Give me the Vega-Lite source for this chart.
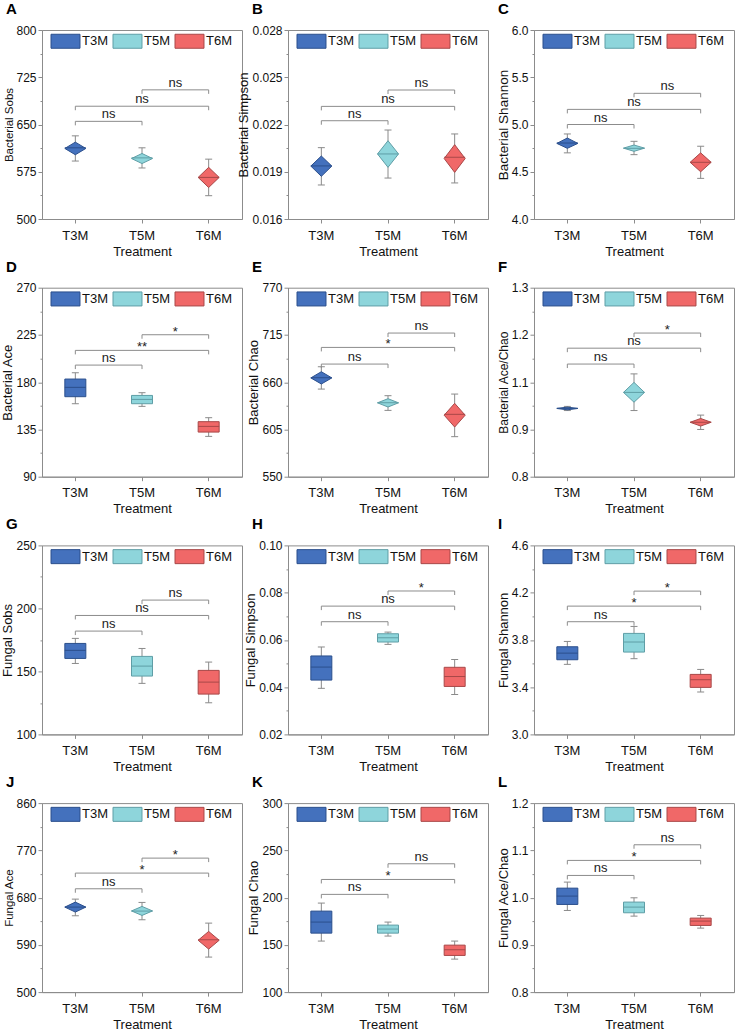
{
"$schema": "https://vega.github.io/schema/vega-lite/v6.json",
"padding": {"left": 1, "top": 1, "right": 5, "bottom": 0},
"columns": 3,
"spacing": {"row": 68.7, "column": 46},
"bounds": "flush",
"resolve": {"legend": {"fill": "independent", "stroke": "independent"}},
"datasets": {
"stats": [
{"p":"A","g":"T3M","lo":592,"q1":602,"med":613,"q3":622,"hi":632},
{"p":"A","g":"T5M","lo":581,"q1":588,"med":597,"q3":604,"hi":613},
{"p":"A","g":"T6M","lo":537,"q1":550,"med":566,"q3":582,"hi":595},
{"p":"B","g":"T3M","lo":0.01816,"q1":0.01871,"med":0.01937,"q3":0.0200,"hi":0.02053},
{"p":"B","g":"T5M","lo":0.0186,"q1":0.01928,"med":0.02013,"q3":0.02097,"hi":0.02165},
{"p":"B","g":"T6M","lo":0.01829,"q1":0.01896,"med":0.01992,"q3":0.02072,"hi":0.0214},
{"p":"C","g":"T3M","lo":4.70,"q1":4.748,"med":4.804,"q3":4.857,"hi":4.90},
{"p":"C","g":"T5M","lo":4.681,"q1":4.716,"med":4.748,"q3":4.783,"hi":4.822},
{"p":"C","g":"T6M","lo":4.43,"q1":4.50,"med":4.60,"q3":4.70,"hi":4.77},
{"p":"D","g":"T3M","lo":159.5,"q1":166.2,"med":175.1,"q3":183.0,"hi":189.0},
{"p":"D","g":"T5M","lo":157.0,"q1":159.5,"med":163.6,"q3":167.4,"hi":170.0},
{"p":"D","g":"T6M","lo":128.4,"q1":132.5,"med":137.9,"q3":142.4,"hi":146.2},
{"p":"E","g":"T3M","lo":652,"q1":657.9,"med":665.2,"q3":672.2,"hi":678},
{"p":"E","g":"T5M","lo":627.2,"q1":631.1,"med":636.1,"q3":640.8,"hi":644.3},
{"p":"E","g":"T6M","lo":596.6,"q1":607.8,"med":622.6,"q3":635.4,"hi":646.2},
{"p":"F","g":"T3M","lo":0.975,"q1":0.977,"med":0.981,"q3":0.984,"hi":0.986},
{"p":"F","g":"T5M","lo":0.975,"q1":0.997,"med":1.023,"q3":1.0495,"hi":1.072},
{"p":"F","g":"T6M","lo":0.925,"q1":0.934,"med":0.944,"q3":0.954,"hi":0.963},
{"p":"G","g":"T3M","lo":156.3,"q1":160.3,"med":166.7,"q3":172.2,"hi":176.2},
{"p":"G","g":"T5M","lo":140.5,"q1":146.3,"med":154.2,"q3":161.9,"hi":168.2},
{"p":"G","g":"T6M","lo":125.1,"q1":132.0,"med":141.5,"q3":150.8,"hi":157.4},
{"p":"H","g":"T3M","lo":0.0395,"q1":0.0430,"med":0.0485,"q3":0.0532,"hi":0.0570},
{"p":"H","g":"T5M","lo":0.0581,"q1":0.0591,"med":0.0609,"q3":0.0626,"hi":0.0633},
{"p":"H","g":"T6M","lo":0.0369,"q1":0.0403,"med":0.0445,"q3":0.0484,"hi":0.0517},
{"p":"I","g":"T3M","lo":3.593,"q1":3.632,"med":3.688,"q3":3.742,"hi":3.787},
{"p":"I","g":"T5M","lo":3.641,"q1":3.697,"med":3.782,"q3":3.855,"hi":3.914},
{"p":"I","g":"T6M","lo":3.359,"q1":3.398,"med":3.463,"q3":3.508,"hi":3.550},
{"p":"J","g":"T3M","lo":645.4,"q1":652.4,"med":661.9,"q3":671.4,"hi":677.1},
{"p":"J","g":"T5M","lo":637.8,"q1":646.0,"med":654.3,"q3":663.2,"hi":670.8},
{"p":"J","g":"T6M","lo":566.7,"q1":581.9,"med":599.7,"q3":615.6,"hi":631.4},
{"p":"K","g":"T3M","lo":154.0,"q1":162.4,"med":174.1,"q3":185.7,"hi":194.2},
{"p":"K","g":"T5M","lo":159.3,"q1":162.4,"med":166.7,"q3":170.9,"hi":174.1},
{"p":"K","g":"T6M","lo":134.9,"q1":138.8,"med":144.8,"q3":149.7,"hi":154.0},
{"p":"L","g":"T3M","lo":0.9728,"q1":0.9855,"med":1.0032,"q3":1.020,"hi":1.0328},
{"p":"L","g":"T5M","lo":0.9608,"q1":0.9679,"med":0.9799,"q3":0.9905,"hi":0.9996},
{"p":"L","g":"T6M","lo":0.9354,"q1":0.9411,"med":0.9503,"q3":0.9566,"hi":0.9622}
],
"diam": [
{"p":"A","g":"T3M","v":"lo","ya":612,"yb":612},{"p":"A","g":"T3M","v":"mid","ya":602,"yb":622},{"p":"A","g":"T3M","v":"hi","ya":612,"yb":612},
{"p":"A","g":"T5M","v":"lo","ya":596,"yb":596},{"p":"A","g":"T5M","v":"mid","ya":588,"yb":604},{"p":"A","g":"T5M","v":"hi","ya":596,"yb":596},
{"p":"A","g":"T6M","v":"lo","ya":566,"yb":566},{"p":"A","g":"T6M","v":"mid","ya":550,"yb":582},{"p":"A","g":"T6M","v":"hi","ya":566,"yb":566},
{"p":"B","g":"T3M","v":"lo","ya":0.01936,"yb":0.01936},{"p":"B","g":"T3M","v":"mid","ya":0.01871,"yb":0.0200},{"p":"B","g":"T3M","v":"hi","ya":0.01936,"yb":0.01936},
{"p":"B","g":"T5M","v":"lo","ya":0.02013,"yb":0.02013},{"p":"B","g":"T5M","v":"mid","ya":0.01928,"yb":0.02097},{"p":"B","g":"T5M","v":"hi","ya":0.02013,"yb":0.02013},
{"p":"B","g":"T6M","v":"lo","ya":0.01984,"yb":0.01984},{"p":"B","g":"T6M","v":"mid","ya":0.01896,"yb":0.02072},{"p":"B","g":"T6M","v":"hi","ya":0.01984,"yb":0.01984},
{"p":"C","g":"T3M","v":"lo","ya":4.80,"yb":4.80},{"p":"C","g":"T3M","v":"mid","ya":4.748,"yb":4.857},{"p":"C","g":"T3M","v":"hi","ya":4.80,"yb":4.80},
{"p":"C","g":"T5M","v":"lo","ya":4.75,"yb":4.75},{"p":"C","g":"T5M","v":"mid","ya":4.716,"yb":4.783},{"p":"C","g":"T5M","v":"hi","ya":4.75,"yb":4.75},
{"p":"C","g":"T6M","v":"lo","ya":4.60,"yb":4.60},{"p":"C","g":"T6M","v":"mid","ya":4.50,"yb":4.70},{"p":"C","g":"T6M","v":"hi","ya":4.60,"yb":4.60},
{"p":"E","g":"T3M","v":"lo","ya":665,"yb":665},{"p":"E","g":"T3M","v":"mid","ya":657.9,"yb":672.2},{"p":"E","g":"T3M","v":"hi","ya":665,"yb":665},
{"p":"E","g":"T5M","v":"lo","ya":636,"yb":636},{"p":"E","g":"T5M","v":"mid","ya":631.1,"yb":640.8},{"p":"E","g":"T5M","v":"hi","ya":636,"yb":636},
{"p":"E","g":"T6M","v":"lo","ya":621.6,"yb":621.6},{"p":"E","g":"T6M","v":"mid","ya":607.8,"yb":635.4},{"p":"E","g":"T6M","v":"hi","ya":621.6,"yb":621.6},
{"p":"F","g":"T3M","v":"lo","ya":0.9805,"yb":0.9805},{"p":"F","g":"T3M","v":"mid","ya":0.977,"yb":0.984},{"p":"F","g":"T3M","v":"hi","ya":0.9805,"yb":0.9805},
{"p":"F","g":"T5M","v":"lo","ya":1.023,"yb":1.023},{"p":"F","g":"T5M","v":"mid","ya":0.997,"yb":1.0495},{"p":"F","g":"T5M","v":"hi","ya":1.023,"yb":1.023},
{"p":"F","g":"T6M","v":"lo","ya":0.944,"yb":0.944},{"p":"F","g":"T6M","v":"mid","ya":0.934,"yb":0.954},{"p":"F","g":"T6M","v":"hi","ya":0.944,"yb":0.944},
{"p":"J","g":"T3M","v":"lo","ya":661.9,"yb":661.9},{"p":"J","g":"T3M","v":"mid","ya":652.4,"yb":671.4},{"p":"J","g":"T3M","v":"hi","ya":661.9,"yb":661.9},
{"p":"J","g":"T5M","v":"lo","ya":654.6,"yb":654.6},{"p":"J","g":"T5M","v":"mid","ya":646.0,"yb":663.2},{"p":"J","g":"T5M","v":"hi","ya":654.6,"yb":654.6},
{"p":"J","g":"T6M","v":"lo","ya":598.75,"yb":598.75},{"p":"J","g":"T6M","v":"mid","ya":581.9,"yb":615.6},{"p":"J","g":"T6M","v":"hi","ya":598.75,"yb":598.75}
],
"brk": [
{"p":"A","a":1,"b":2,"m":1.5,"y":655,"lab":"ns"},{"p":"A","a":1,"b":3,"m":2,"y":679,"lab":"ns"},{"p":"A","a":2,"b":3,"m":2.5,"y":705,"lab":"ns"},
{"p":"B","a":1,"b":2,"m":1.5,"y":0.02224,"lab":"ns"},{"p":"B","a":1,"b":3,"m":2,"y":0.02315,"lab":"ns"},{"p":"B","a":2,"b":3,"m":2.5,"y":0.02419,"lab":"ns"},
{"p":"C","a":1,"b":2,"m":1.5,"y":5.0,"lab":"ns"},{"p":"C","a":1,"b":3,"m":2,"y":5.16,"lab":"ns"},{"p":"C","a":2,"b":3,"m":2.5,"y":5.33,"lab":"ns"},
{"p":"D","a":1,"b":2,"m":1.5,"y":196.3,"lab":"ns"},{"p":"D","a":1,"b":3,"m":2,"y":210.3,"lab":"**"},{"p":"D","a":2,"b":3,"m":2.5,"y":225.2,"lab":"*"},
{"p":"E","a":1,"b":2,"m":1.5,"y":681.1,"lab":"ns"},{"p":"E","a":1,"b":3,"m":2,"y":700.5,"lab":"*"},{"p":"E","a":2,"b":3,"m":2.5,"y":717.2,"lab":"ns"},
{"p":"F","a":1,"b":2,"m":1.5,"y":1.098,"lab":"ns"},{"p":"F","a":1,"b":3,"m":2,"y":1.140,"lab":"ns"},{"p":"F","a":2,"b":3,"m":2.5,"y":1.180,"lab":"*"},
{"p":"G","a":1,"b":2,"m":1.5,"y":182.0,"lab":"ns"},{"p":"G","a":1,"b":3,"m":2,"y":194.4,"lab":"ns"},{"p":"G","a":2,"b":3,"m":2.5,"y":206.6,"lab":"ns"},
{"p":"H","a":1,"b":2,"m":1.5,"y":0.0677,"lab":"ns"},{"p":"H","a":1,"b":3,"m":2,"y":0.0743,"lab":"ns"},{"p":"H","a":2,"b":3,"m":2.5,"y":0.0807,"lab":"*"},
{"p":"I","a":1,"b":2,"m":1.5,"y":3.954,"lab":"ns"},{"p":"I","a":1,"b":3,"m":2,"y":4.086,"lab":"*"},{"p":"I","a":2,"b":3,"m":2.5,"y":4.213,"lab":"*"},
{"p":"J","a":1,"b":2,"m":1.5,"y":696.8,"lab":"ns"},{"p":"J","a":1,"b":3,"m":2,"y":726.7,"lab":"*"},{"p":"J","a":2,"b":3,"m":2.5,"y":755.2,"lab":"*"},
{"p":"K","a":1,"b":2,"m":1.5,"y":203.4,"lab":"ns"},{"p":"K","a":1,"b":3,"m":2,"y":219.2,"lab":"*"},{"p":"K","a":2,"b":3,"m":2.5,"y":235.8,"lab":"ns"},
{"p":"L","a":1,"b":2,"m":1.5,"y":1.0469,"lab":"ns"},{"p":"L","a":1,"b":3,"m":2,"y":1.0787,"lab":"*"},{"p":"L","a":2,"b":3,"m":2.5,"y":1.1118,"lab":"ns"}
]
},
"concat": [
{"title": {"text": "A"}, "width": 200, "height": 189,
 "resolve": {"scale": {"x": "independent"}, "axis": {"x": "independent"}},
 "encoding": {"y": {"type": "quantitative", "title": "Bacterial Sobs", "scale": {"domain": [500, 800], "zero": false, "nice": false}, "axis": {"titleFontSize": 11.5, "values": [500, 537.5, 575, 612.5, 650, 687.5, 725, 762.5, 800], "format": "d", "labelExpr": "indexof([500,575,650,725,800], datum.value) < 0 ? '' : datum.label", "tickSize": {"condition": {"test": "indexof([500,575,650,725,800], datum.value) < 0", "value": 2}, "value": 4}}}},
 "layer": [
  {"encoding": {"x": {"field": "g", "type": "nominal", "title": "Treatment", "scale": {"type": "band", "domain": ["T3M", "T5M", "T6M"], "paddingInner": 0.685, "paddingOuter": 0.3425}, "axis": {"labelAngle": 0}}},
   "layer": [
    {"data": {"name": "stats"}, "transform": [{"filter": "datum.p == 'A'"}], "mark": {"type": "rule", "color": "#8a8a8a"}, "encoding": {"y": {"field": "lo"}, "y2": {"field": "hi"}}},
    {"data": {"name": "stats"}, "transform": [{"filter": "datum.p == 'A'"}, {"fold": ["lo", "hi"], "as": ["k", "w"]}], "mark": {"type": "tick", "orient": "horizontal", "size": 7, "thickness": 1, "color": "#8a8a8a", "opacity": 1}, "encoding": {"y": {"field": "w"}}},
    {"data": {"name": "diam"}, "transform": [{"filter": "datum.p == 'A'"}], "mark": {"type": "area", "orient": "vertical", "strokeWidth": 1, "opacity": 1}, "encoding": {"xOffset": {"field": "v", "type": "nominal", "scale": {"type": "point", "domain": ["lo", "mid", "hi"], "padding": 0}}, "y": {"field": "ya"}, "y2": {"field": "yb"}, "fill": {"field": "g", "type": "nominal", "scale": {"domain": ["T3M", "T5M", "T6M"], "range": ["#4471BD", "#8ED5DB", "#F06868"]}, "legend": {"title": null}}, "stroke": {"field": "g", "type": "nominal", "scale": {"domain": ["T3M", "T5M", "T6M"], "range": ["#2B4F8C", "#5F9EA6", "#A84848"]}, "legend": {"title": null}}}},
    {"data": {"name": "stats"}, "transform": [{"filter": "datum.p == 'A'"}, {"fold": ["lo", "hi"], "as": ["k", "w"]}], "mark": {"type": "line", "strokeWidth": 1}, "encoding": {"xOffset": {"field": "k", "type": "nominal", "scale": {"type": "point", "domain": ["lo", "mid", "hi"], "padding": 0}}, "y": {"field": "med"}, "stroke": {"field": "g", "type": "nominal", "scale": {"domain": ["T3M", "T5M", "T6M"], "range": ["#2B4F8C", "#5F9EA6", "#A84848"]}, "legend": {"title": null}}}}
   ]},
  {"data": {"name": "brk"}, "transform": [{"filter": "datum.p == 'A'"}],
   "encoding": {"x": {"type": "quantitative", "scale": {"domain": [0.5, 3.5], "zero": false, "nice": false}, "axis": null}},
   "layer": [
    {"mark": {"type": "rule", "color": "#8c8c8c"}, "encoding": {"x": {"field": "a"}, "x2": {"field": "b"}, "y": {"field": "y"}}},
    {"transform": [{"fold": ["a", "b"], "as": ["k", "e"]}], "mark": {"type": "rule", "color": "#8c8c8c", "y2Offset": 4}, "encoding": {"x": {"field": "e"}, "y": {"field": "y"}, "y2": {"field": "y"}}},
    {"transform": [{"filter": "datum.lab == 'ns'"}], "mark": {"type": "text", "dy": -3, "baseline": "alphabetic", "fontSize": 13, "color": "#222"}, "encoding": {"x": {"field": "m"}, "y": {"field": "y"}, "text": {"field": "lab"}}},
    {"transform": [{"filter": "datum.lab != 'ns'"}], "mark": {"type": "text", "dy": 1, "baseline": "alphabetic", "fontSize": 13, "color": "#222"}, "encoding": {"x": {"field": "m"}, "y": {"field": "y"}, "text": {"field": "lab"}}}
   ]}
 ]},
{"title": {"text": "B"}, "width": 200, "height": 189,
 "resolve": {"scale": {"x": "independent"}, "axis": {"x": "independent"}},
 "encoding": {"y": {"type": "quantitative", "title": "Bacterial Simpson", "scale": {"domain": [0.016, 0.028], "zero": false, "nice": false}, "axis": {"values": [0.016, 0.0175, 0.019, 0.0205, 0.022, 0.0235, 0.025, 0.0265, 0.028], "format": ".3f", "labelExpr": "indexof([0.016,0.019,0.022,0.025,0.028], datum.value) < 0 ? '' : datum.label", "tickSize": {"condition": {"test": "indexof([0.016,0.019,0.022,0.025,0.028], datum.value) < 0", "value": 2}, "value": 4}}}},
 "layer": [
  {"encoding": {"x": {"field": "g", "type": "nominal", "title": "Treatment", "scale": {"type": "band", "domain": ["T3M", "T5M", "T6M"], "paddingInner": 0.685, "paddingOuter": 0.3425}, "axis": {"labelAngle": 0}}},
   "layer": [
    {"data": {"name": "stats"}, "transform": [{"filter": "datum.p == 'B'"}], "mark": {"type": "rule", "color": "#8a8a8a"}, "encoding": {"y": {"field": "lo"}, "y2": {"field": "hi"}}},
    {"data": {"name": "stats"}, "transform": [{"filter": "datum.p == 'B'"}, {"fold": ["lo", "hi"], "as": ["k", "w"]}], "mark": {"type": "tick", "orient": "horizontal", "size": 7, "thickness": 1, "color": "#8a8a8a", "opacity": 1}, "encoding": {"y": {"field": "w"}}},
    {"data": {"name": "diam"}, "transform": [{"filter": "datum.p == 'B'"}], "mark": {"type": "area", "orient": "vertical", "strokeWidth": 1, "opacity": 1}, "encoding": {"xOffset": {"field": "v", "type": "nominal", "scale": {"type": "point", "domain": ["lo", "mid", "hi"], "padding": 0}}, "y": {"field": "ya"}, "y2": {"field": "yb"}, "fill": {"field": "g", "type": "nominal", "scale": {"domain": ["T3M", "T5M", "T6M"], "range": ["#4471BD", "#8ED5DB", "#F06868"]}, "legend": {"title": null}}, "stroke": {"field": "g", "type": "nominal", "scale": {"domain": ["T3M", "T5M", "T6M"], "range": ["#2B4F8C", "#5F9EA6", "#A84848"]}, "legend": {"title": null}}}},
    {"data": {"name": "stats"}, "transform": [{"filter": "datum.p == 'B'"}, {"fold": ["lo", "hi"], "as": ["k", "w"]}], "mark": {"type": "line", "strokeWidth": 1}, "encoding": {"xOffset": {"field": "k", "type": "nominal", "scale": {"type": "point", "domain": ["lo", "mid", "hi"], "padding": 0}}, "y": {"field": "med"}, "stroke": {"field": "g", "type": "nominal", "scale": {"domain": ["T3M", "T5M", "T6M"], "range": ["#2B4F8C", "#5F9EA6", "#A84848"]}, "legend": {"title": null}}}}
   ]},
  {"data": {"name": "brk"}, "transform": [{"filter": "datum.p == 'B'"}],
   "encoding": {"x": {"type": "quantitative", "scale": {"domain": [0.5, 3.5], "zero": false, "nice": false}, "axis": null}},
   "layer": [
    {"mark": {"type": "rule", "color": "#8c8c8c"}, "encoding": {"x": {"field": "a"}, "x2": {"field": "b"}, "y": {"field": "y"}}},
    {"transform": [{"fold": ["a", "b"], "as": ["k", "e"]}], "mark": {"type": "rule", "color": "#8c8c8c", "y2Offset": 4}, "encoding": {"x": {"field": "e"}, "y": {"field": "y"}, "y2": {"field": "y"}}},
    {"transform": [{"filter": "datum.lab == 'ns'"}], "mark": {"type": "text", "dy": -3, "baseline": "alphabetic", "fontSize": 13, "color": "#222"}, "encoding": {"x": {"field": "m"}, "y": {"field": "y"}, "text": {"field": "lab"}}},
    {"transform": [{"filter": "datum.lab != 'ns'"}], "mark": {"type": "text", "dy": 1, "baseline": "alphabetic", "fontSize": 13, "color": "#222"}, "encoding": {"x": {"field": "m"}, "y": {"field": "y"}, "text": {"field": "lab"}}}
   ]}
 ]},
{"title": {"text": "C"}, "width": 200, "height": 189,
 "resolve": {"scale": {"x": "independent"}, "axis": {"x": "independent"}},
 "encoding": {"y": {"type": "quantitative", "title": "Bacterial Shannon", "scale": {"domain": [4, 6], "zero": false, "nice": false}, "axis": {"titleFontSize": 13.5, "values": [4, 4.25, 4.5, 4.75, 5, 5.25, 5.5, 5.75, 6], "format": ".1f", "labelExpr": "indexof([4,4.5,5,5.5,6], datum.value) < 0 ? '' : datum.label", "tickSize": {"condition": {"test": "indexof([4,4.5,5,5.5,6], datum.value) < 0", "value": 2}, "value": 4}}}},
 "layer": [
  {"encoding": {"x": {"field": "g", "type": "nominal", "title": "Treatment", "scale": {"type": "band", "domain": ["T3M", "T5M", "T6M"], "paddingInner": 0.685, "paddingOuter": 0.3425}, "axis": {"labelAngle": 0}}},
   "layer": [
    {"data": {"name": "stats"}, "transform": [{"filter": "datum.p == 'C'"}], "mark": {"type": "rule", "color": "#8a8a8a"}, "encoding": {"y": {"field": "lo"}, "y2": {"field": "hi"}}},
    {"data": {"name": "stats"}, "transform": [{"filter": "datum.p == 'C'"}, {"fold": ["lo", "hi"], "as": ["k", "w"]}], "mark": {"type": "tick", "orient": "horizontal", "size": 7, "thickness": 1, "color": "#8a8a8a", "opacity": 1}, "encoding": {"y": {"field": "w"}}},
    {"data": {"name": "diam"}, "transform": [{"filter": "datum.p == 'C'"}], "mark": {"type": "area", "orient": "vertical", "strokeWidth": 1, "opacity": 1}, "encoding": {"xOffset": {"field": "v", "type": "nominal", "scale": {"type": "point", "domain": ["lo", "mid", "hi"], "padding": 0}}, "y": {"field": "ya"}, "y2": {"field": "yb"}, "fill": {"field": "g", "type": "nominal", "scale": {"domain": ["T3M", "T5M", "T6M"], "range": ["#4471BD", "#8ED5DB", "#F06868"]}, "legend": {"title": null}}, "stroke": {"field": "g", "type": "nominal", "scale": {"domain": ["T3M", "T5M", "T6M"], "range": ["#2B4F8C", "#5F9EA6", "#A84848"]}, "legend": {"title": null}}}},
    {"data": {"name": "stats"}, "transform": [{"filter": "datum.p == 'C'"}, {"fold": ["lo", "hi"], "as": ["k", "w"]}], "mark": {"type": "line", "strokeWidth": 1}, "encoding": {"xOffset": {"field": "k", "type": "nominal", "scale": {"type": "point", "domain": ["lo", "mid", "hi"], "padding": 0}}, "y": {"field": "med"}, "stroke": {"field": "g", "type": "nominal", "scale": {"domain": ["T3M", "T5M", "T6M"], "range": ["#2B4F8C", "#5F9EA6", "#A84848"]}, "legend": {"title": null}}}}
   ]},
  {"data": {"name": "brk"}, "transform": [{"filter": "datum.p == 'C'"}],
   "encoding": {"x": {"type": "quantitative", "scale": {"domain": [0.5, 3.5], "zero": false, "nice": false}, "axis": null}},
   "layer": [
    {"mark": {"type": "rule", "color": "#8c8c8c"}, "encoding": {"x": {"field": "a"}, "x2": {"field": "b"}, "y": {"field": "y"}}},
    {"transform": [{"fold": ["a", "b"], "as": ["k", "e"]}], "mark": {"type": "rule", "color": "#8c8c8c", "y2Offset": 4}, "encoding": {"x": {"field": "e"}, "y": {"field": "y"}, "y2": {"field": "y"}}},
    {"transform": [{"filter": "datum.lab == 'ns'"}], "mark": {"type": "text", "dy": -3, "baseline": "alphabetic", "fontSize": 13, "color": "#222"}, "encoding": {"x": {"field": "m"}, "y": {"field": "y"}, "text": {"field": "lab"}}},
    {"transform": [{"filter": "datum.lab != 'ns'"}], "mark": {"type": "text", "dy": 1, "baseline": "alphabetic", "fontSize": 13, "color": "#222"}, "encoding": {"x": {"field": "m"}, "y": {"field": "y"}, "text": {"field": "lab"}}}
   ]}
 ]},
{"title": {"text": "D"}, "width": 200, "height": 189,
 "resolve": {"scale": {"x": "independent"}, "axis": {"x": "independent"}},
 "encoding": {"y": {"type": "quantitative", "title": "Bacterial Ace", "scale": {"domain": [90, 270], "zero": false, "nice": false}, "axis": {"values": [90, 112.5, 135, 157.5, 180, 202.5, 225, 247.5, 270], "format": "d", "labelExpr": "indexof([90,135,180,225,270], datum.value) < 0 ? '' : datum.label", "tickSize": {"condition": {"test": "indexof([90,135,180,225,270], datum.value) < 0", "value": 2}, "value": 4}}}},
 "layer": [
  {"encoding": {"x": {"field": "g", "type": "nominal", "title": "Treatment", "scale": {"type": "band", "domain": ["T3M", "T5M", "T6M"], "paddingInner": 0.685, "paddingOuter": 0.3425}, "axis": {"labelAngle": 0}}},
   "layer": [
    {"data": {"name": "stats"}, "transform": [{"filter": "datum.p == 'D'"}], "mark": {"type": "rule", "color": "#8a8a8a"}, "encoding": {"y": {"field": "lo"}, "y2": {"field": "hi"}}},
    {"data": {"name": "stats"}, "transform": [{"filter": "datum.p == 'D'"}, {"fold": ["lo", "hi"], "as": ["k", "w"]}], "mark": {"type": "tick", "orient": "horizontal", "size": 7, "thickness": 1, "color": "#8a8a8a", "opacity": 1}, "encoding": {"y": {"field": "w"}}},
    {"data": {"name": "stats"}, "transform": [{"filter": "datum.p == 'D'"}, {"fold": ["lo", "hi"], "as": ["k", "w"]}], "mark": {"type": "area", "orient": "vertical", "strokeWidth": 1, "opacity": 1}, "encoding": {"xOffset": {"field": "k", "type": "nominal", "scale": {"type": "point", "domain": ["lo", "mid", "hi"], "padding": 0}}, "y": {"field": "q1"}, "y2": {"field": "q3"}, "fill": {"field": "g", "type": "nominal", "scale": {"domain": ["T3M", "T5M", "T6M"], "range": ["#4471BD", "#8ED5DB", "#F06868"]}, "legend": {"title": null}}, "stroke": {"field": "g", "type": "nominal", "scale": {"domain": ["T3M", "T5M", "T6M"], "range": ["#2B4F8C", "#5F9EA6", "#A84848"]}, "legend": {"title": null}}}},
    {"data": {"name": "stats"}, "transform": [{"filter": "datum.p == 'D'"}, {"fold": ["lo", "hi"], "as": ["k", "w"]}], "mark": {"type": "line", "strokeWidth": 1}, "encoding": {"xOffset": {"field": "k", "type": "nominal", "scale": {"type": "point", "domain": ["lo", "mid", "hi"], "padding": 0}}, "y": {"field": "med"}, "stroke": {"field": "g", "type": "nominal", "scale": {"domain": ["T3M", "T5M", "T6M"], "range": ["#2B4F8C", "#5F9EA6", "#A84848"]}, "legend": {"title": null}}}}
   ]},
  {"data": {"name": "brk"}, "transform": [{"filter": "datum.p == 'D'"}],
   "encoding": {"x": {"type": "quantitative", "scale": {"domain": [0.5, 3.5], "zero": false, "nice": false}, "axis": null}},
   "layer": [
    {"mark": {"type": "rule", "color": "#8c8c8c"}, "encoding": {"x": {"field": "a"}, "x2": {"field": "b"}, "y": {"field": "y"}}},
    {"transform": [{"fold": ["a", "b"], "as": ["k", "e"]}], "mark": {"type": "rule", "color": "#8c8c8c", "y2Offset": 4}, "encoding": {"x": {"field": "e"}, "y": {"field": "y"}, "y2": {"field": "y"}}},
    {"transform": [{"filter": "datum.lab == 'ns'"}], "mark": {"type": "text", "dy": -3, "baseline": "alphabetic", "fontSize": 13, "color": "#222"}, "encoding": {"x": {"field": "m"}, "y": {"field": "y"}, "text": {"field": "lab"}}},
    {"transform": [{"filter": "datum.lab != 'ns'"}], "mark": {"type": "text", "dy": 1, "baseline": "alphabetic", "fontSize": 13, "color": "#222"}, "encoding": {"x": {"field": "m"}, "y": {"field": "y"}, "text": {"field": "lab"}}}
   ]}
 ]},
{"title": {"text": "E"}, "width": 200, "height": 189,
 "resolve": {"scale": {"x": "independent"}, "axis": {"x": "independent"}},
 "encoding": {"y": {"type": "quantitative", "title": "Bacterial Chao", "scale": {"domain": [550, 770], "zero": false, "nice": false}, "axis": {"values": [550, 577.5, 605, 632.5, 660, 687.5, 715, 742.5, 770], "format": "d", "labelExpr": "indexof([550,605,660,715,770], datum.value) < 0 ? '' : datum.label", "tickSize": {"condition": {"test": "indexof([550,605,660,715,770], datum.value) < 0", "value": 2}, "value": 4}}}},
 "layer": [
  {"encoding": {"x": {"field": "g", "type": "nominal", "title": "Treatment", "scale": {"type": "band", "domain": ["T3M", "T5M", "T6M"], "paddingInner": 0.685, "paddingOuter": 0.3425}, "axis": {"labelAngle": 0}}},
   "layer": [
    {"data": {"name": "stats"}, "transform": [{"filter": "datum.p == 'E'"}], "mark": {"type": "rule", "color": "#8a8a8a"}, "encoding": {"y": {"field": "lo"}, "y2": {"field": "hi"}}},
    {"data": {"name": "stats"}, "transform": [{"filter": "datum.p == 'E'"}, {"fold": ["lo", "hi"], "as": ["k", "w"]}], "mark": {"type": "tick", "orient": "horizontal", "size": 7, "thickness": 1, "color": "#8a8a8a", "opacity": 1}, "encoding": {"y": {"field": "w"}}},
    {"data": {"name": "diam"}, "transform": [{"filter": "datum.p == 'E'"}], "mark": {"type": "area", "orient": "vertical", "strokeWidth": 1, "opacity": 1}, "encoding": {"xOffset": {"field": "v", "type": "nominal", "scale": {"type": "point", "domain": ["lo", "mid", "hi"], "padding": 0}}, "y": {"field": "ya"}, "y2": {"field": "yb"}, "fill": {"field": "g", "type": "nominal", "scale": {"domain": ["T3M", "T5M", "T6M"], "range": ["#4471BD", "#8ED5DB", "#F06868"]}, "legend": {"title": null}}, "stroke": {"field": "g", "type": "nominal", "scale": {"domain": ["T3M", "T5M", "T6M"], "range": ["#2B4F8C", "#5F9EA6", "#A84848"]}, "legend": {"title": null}}}},
    {"data": {"name": "stats"}, "transform": [{"filter": "datum.p == 'E'"}, {"fold": ["lo", "hi"], "as": ["k", "w"]}], "mark": {"type": "line", "strokeWidth": 1}, "encoding": {"xOffset": {"field": "k", "type": "nominal", "scale": {"type": "point", "domain": ["lo", "mid", "hi"], "padding": 0}}, "y": {"field": "med"}, "stroke": {"field": "g", "type": "nominal", "scale": {"domain": ["T3M", "T5M", "T6M"], "range": ["#2B4F8C", "#5F9EA6", "#A84848"]}, "legend": {"title": null}}}}
   ]},
  {"data": {"name": "brk"}, "transform": [{"filter": "datum.p == 'E'"}],
   "encoding": {"x": {"type": "quantitative", "scale": {"domain": [0.5, 3.5], "zero": false, "nice": false}, "axis": null}},
   "layer": [
    {"mark": {"type": "rule", "color": "#8c8c8c"}, "encoding": {"x": {"field": "a"}, "x2": {"field": "b"}, "y": {"field": "y"}}},
    {"transform": [{"fold": ["a", "b"], "as": ["k", "e"]}], "mark": {"type": "rule", "color": "#8c8c8c", "y2Offset": 4}, "encoding": {"x": {"field": "e"}, "y": {"field": "y"}, "y2": {"field": "y"}}},
    {"transform": [{"filter": "datum.lab == 'ns'"}], "mark": {"type": "text", "dy": -3, "baseline": "alphabetic", "fontSize": 13, "color": "#222"}, "encoding": {"x": {"field": "m"}, "y": {"field": "y"}, "text": {"field": "lab"}}},
    {"transform": [{"filter": "datum.lab != 'ns'"}], "mark": {"type": "text", "dy": 1, "baseline": "alphabetic", "fontSize": 13, "color": "#222"}, "encoding": {"x": {"field": "m"}, "y": {"field": "y"}, "text": {"field": "lab"}}}
   ]}
 ]},
{"title": {"text": "F"}, "width": 200, "height": 189,
 "resolve": {"scale": {"x": "independent"}, "axis": {"x": "independent"}},
 "encoding": {"y": {"type": "quantitative", "title": "Bacterial Ace/Chao", "scale": {"domain": [0.8, 1.3], "zero": false, "nice": false}, "axis": {"titleFontSize": 12, "values": [0.8, 0.8625, 0.925, 0.9875, 1.05, 1.1125, 1.175, 1.2375, 1.3], "format": ".1f", "labelExpr": "indexof([0.8,0.925,1.05,1.175,1.3], datum.value) < 0 ? '' : datum.label", "tickSize": {"condition": {"test": "indexof([0.8,0.925,1.05,1.175,1.3], datum.value) < 0", "value": 2}, "value": 4}}}},
 "layer": [
  {"encoding": {"x": {"field": "g", "type": "nominal", "title": "Treatment", "scale": {"type": "band", "domain": ["T3M", "T5M", "T6M"], "paddingInner": 0.685, "paddingOuter": 0.3425}, "axis": {"labelAngle": 0}}},
   "layer": [
    {"data": {"name": "stats"}, "transform": [{"filter": "datum.p == 'F'"}], "mark": {"type": "rule", "color": "#8a8a8a"}, "encoding": {"y": {"field": "lo"}, "y2": {"field": "hi"}}},
    {"data": {"name": "stats"}, "transform": [{"filter": "datum.p == 'F'"}, {"fold": ["lo", "hi"], "as": ["k", "w"]}], "mark": {"type": "tick", "orient": "horizontal", "size": 7, "thickness": 1, "color": "#8a8a8a", "opacity": 1}, "encoding": {"y": {"field": "w"}}},
    {"data": {"name": "diam"}, "transform": [{"filter": "datum.p == 'F'"}], "mark": {"type": "area", "orient": "vertical", "strokeWidth": 1, "opacity": 1}, "encoding": {"xOffset": {"field": "v", "type": "nominal", "scale": {"type": "point", "domain": ["lo", "mid", "hi"], "padding": 0}}, "y": {"field": "ya"}, "y2": {"field": "yb"}, "fill": {"field": "g", "type": "nominal", "scale": {"domain": ["T3M", "T5M", "T6M"], "range": ["#4471BD", "#8ED5DB", "#F06868"]}, "legend": {"title": null}}, "stroke": {"field": "g", "type": "nominal", "scale": {"domain": ["T3M", "T5M", "T6M"], "range": ["#2B4F8C", "#5F9EA6", "#A84848"]}, "legend": {"title": null}}}},
    {"data": {"name": "stats"}, "transform": [{"filter": "datum.p == 'F'"}, {"fold": ["lo", "hi"], "as": ["k", "w"]}], "mark": {"type": "line", "strokeWidth": 1}, "encoding": {"xOffset": {"field": "k", "type": "nominal", "scale": {"type": "point", "domain": ["lo", "mid", "hi"], "padding": 0}}, "y": {"field": "med"}, "stroke": {"field": "g", "type": "nominal", "scale": {"domain": ["T3M", "T5M", "T6M"], "range": ["#2B4F8C", "#5F9EA6", "#A84848"]}, "legend": {"title": null}}}}
   ]},
  {"data": {"name": "brk"}, "transform": [{"filter": "datum.p == 'F'"}],
   "encoding": {"x": {"type": "quantitative", "scale": {"domain": [0.5, 3.5], "zero": false, "nice": false}, "axis": null}},
   "layer": [
    {"mark": {"type": "rule", "color": "#8c8c8c"}, "encoding": {"x": {"field": "a"}, "x2": {"field": "b"}, "y": {"field": "y"}}},
    {"transform": [{"fold": ["a", "b"], "as": ["k", "e"]}], "mark": {"type": "rule", "color": "#8c8c8c", "y2Offset": 4}, "encoding": {"x": {"field": "e"}, "y": {"field": "y"}, "y2": {"field": "y"}}},
    {"transform": [{"filter": "datum.lab == 'ns'"}], "mark": {"type": "text", "dy": -3, "baseline": "alphabetic", "fontSize": 13, "color": "#222"}, "encoding": {"x": {"field": "m"}, "y": {"field": "y"}, "text": {"field": "lab"}}},
    {"transform": [{"filter": "datum.lab != 'ns'"}], "mark": {"type": "text", "dy": 1, "baseline": "alphabetic", "fontSize": 13, "color": "#222"}, "encoding": {"x": {"field": "m"}, "y": {"field": "y"}, "text": {"field": "lab"}}}
   ]}
 ]},
{"title": {"text": "G"}, "width": 200, "height": 189,
 "resolve": {"scale": {"x": "independent"}, "axis": {"x": "independent"}},
 "encoding": {"y": {"type": "quantitative", "title": "Fungal Sobs", "scale": {"domain": [100, 250], "zero": false, "nice": false}, "axis": {"values": [100, 125, 150, 175, 200, 225, 250], "format": "d", "labelExpr": "indexof([100,150,200,250], datum.value) < 0 ? '' : datum.label", "tickSize": {"condition": {"test": "indexof([100,150,200,250], datum.value) < 0", "value": 2}, "value": 4}}}},
 "layer": [
  {"encoding": {"x": {"field": "g", "type": "nominal", "title": "Treatment", "scale": {"type": "band", "domain": ["T3M", "T5M", "T6M"], "paddingInner": 0.685, "paddingOuter": 0.3425}, "axis": {"labelAngle": 0}}},
   "layer": [
    {"data": {"name": "stats"}, "transform": [{"filter": "datum.p == 'G'"}], "mark": {"type": "rule", "color": "#8a8a8a"}, "encoding": {"y": {"field": "lo"}, "y2": {"field": "hi"}}},
    {"data": {"name": "stats"}, "transform": [{"filter": "datum.p == 'G'"}, {"fold": ["lo", "hi"], "as": ["k", "w"]}], "mark": {"type": "tick", "orient": "horizontal", "size": 7, "thickness": 1, "color": "#8a8a8a", "opacity": 1}, "encoding": {"y": {"field": "w"}}},
    {"data": {"name": "stats"}, "transform": [{"filter": "datum.p == 'G'"}, {"fold": ["lo", "hi"], "as": ["k", "w"]}], "mark": {"type": "area", "orient": "vertical", "strokeWidth": 1, "opacity": 1}, "encoding": {"xOffset": {"field": "k", "type": "nominal", "scale": {"type": "point", "domain": ["lo", "mid", "hi"], "padding": 0}}, "y": {"field": "q1"}, "y2": {"field": "q3"}, "fill": {"field": "g", "type": "nominal", "scale": {"domain": ["T3M", "T5M", "T6M"], "range": ["#4471BD", "#8ED5DB", "#F06868"]}, "legend": {"title": null}}, "stroke": {"field": "g", "type": "nominal", "scale": {"domain": ["T3M", "T5M", "T6M"], "range": ["#2B4F8C", "#5F9EA6", "#A84848"]}, "legend": {"title": null}}}},
    {"data": {"name": "stats"}, "transform": [{"filter": "datum.p == 'G'"}, {"fold": ["lo", "hi"], "as": ["k", "w"]}], "mark": {"type": "line", "strokeWidth": 1}, "encoding": {"xOffset": {"field": "k", "type": "nominal", "scale": {"type": "point", "domain": ["lo", "mid", "hi"], "padding": 0}}, "y": {"field": "med"}, "stroke": {"field": "g", "type": "nominal", "scale": {"domain": ["T3M", "T5M", "T6M"], "range": ["#2B4F8C", "#5F9EA6", "#A84848"]}, "legend": {"title": null}}}}
   ]},
  {"data": {"name": "brk"}, "transform": [{"filter": "datum.p == 'G'"}],
   "encoding": {"x": {"type": "quantitative", "scale": {"domain": [0.5, 3.5], "zero": false, "nice": false}, "axis": null}},
   "layer": [
    {"mark": {"type": "rule", "color": "#8c8c8c"}, "encoding": {"x": {"field": "a"}, "x2": {"field": "b"}, "y": {"field": "y"}}},
    {"transform": [{"fold": ["a", "b"], "as": ["k", "e"]}], "mark": {"type": "rule", "color": "#8c8c8c", "y2Offset": 4}, "encoding": {"x": {"field": "e"}, "y": {"field": "y"}, "y2": {"field": "y"}}},
    {"transform": [{"filter": "datum.lab == 'ns'"}], "mark": {"type": "text", "dy": -3, "baseline": "alphabetic", "fontSize": 13, "color": "#222"}, "encoding": {"x": {"field": "m"}, "y": {"field": "y"}, "text": {"field": "lab"}}},
    {"transform": [{"filter": "datum.lab != 'ns'"}], "mark": {"type": "text", "dy": 1, "baseline": "alphabetic", "fontSize": 13, "color": "#222"}, "encoding": {"x": {"field": "m"}, "y": {"field": "y"}, "text": {"field": "lab"}}}
   ]}
 ]},
{"title": {"text": "H"}, "width": 200, "height": 189,
 "resolve": {"scale": {"x": "independent"}, "axis": {"x": "independent"}},
 "encoding": {"y": {"type": "quantitative", "title": "Fungal Simpson", "scale": {"domain": [0.02, 0.1], "zero": false, "nice": false}, "axis": {"values": [0.02, 0.03, 0.04, 0.05, 0.06, 0.07, 0.08, 0.09, 0.1], "format": ".2f", "labelExpr": "indexof([0.02,0.04,0.06,0.08,0.1], datum.value) < 0 ? '' : datum.label", "tickSize": {"condition": {"test": "indexof([0.02,0.04,0.06,0.08,0.1], datum.value) < 0", "value": 2}, "value": 4}}}},
 "layer": [
  {"encoding": {"x": {"field": "g", "type": "nominal", "title": "Treatment", "scale": {"type": "band", "domain": ["T3M", "T5M", "T6M"], "paddingInner": 0.685, "paddingOuter": 0.3425}, "axis": {"labelAngle": 0}}},
   "layer": [
    {"data": {"name": "stats"}, "transform": [{"filter": "datum.p == 'H'"}], "mark": {"type": "rule", "color": "#8a8a8a"}, "encoding": {"y": {"field": "lo"}, "y2": {"field": "hi"}}},
    {"data": {"name": "stats"}, "transform": [{"filter": "datum.p == 'H'"}, {"fold": ["lo", "hi"], "as": ["k", "w"]}], "mark": {"type": "tick", "orient": "horizontal", "size": 7, "thickness": 1, "color": "#8a8a8a", "opacity": 1}, "encoding": {"y": {"field": "w"}}},
    {"data": {"name": "stats"}, "transform": [{"filter": "datum.p == 'H'"}, {"fold": ["lo", "hi"], "as": ["k", "w"]}], "mark": {"type": "area", "orient": "vertical", "strokeWidth": 1, "opacity": 1}, "encoding": {"xOffset": {"field": "k", "type": "nominal", "scale": {"type": "point", "domain": ["lo", "mid", "hi"], "padding": 0}}, "y": {"field": "q1"}, "y2": {"field": "q3"}, "fill": {"field": "g", "type": "nominal", "scale": {"domain": ["T3M", "T5M", "T6M"], "range": ["#4471BD", "#8ED5DB", "#F06868"]}, "legend": {"title": null}}, "stroke": {"field": "g", "type": "nominal", "scale": {"domain": ["T3M", "T5M", "T6M"], "range": ["#2B4F8C", "#5F9EA6", "#A84848"]}, "legend": {"title": null}}}},
    {"data": {"name": "stats"}, "transform": [{"filter": "datum.p == 'H'"}, {"fold": ["lo", "hi"], "as": ["k", "w"]}], "mark": {"type": "line", "strokeWidth": 1}, "encoding": {"xOffset": {"field": "k", "type": "nominal", "scale": {"type": "point", "domain": ["lo", "mid", "hi"], "padding": 0}}, "y": {"field": "med"}, "stroke": {"field": "g", "type": "nominal", "scale": {"domain": ["T3M", "T5M", "T6M"], "range": ["#2B4F8C", "#5F9EA6", "#A84848"]}, "legend": {"title": null}}}}
   ]},
  {"data": {"name": "brk"}, "transform": [{"filter": "datum.p == 'H'"}],
   "encoding": {"x": {"type": "quantitative", "scale": {"domain": [0.5, 3.5], "zero": false, "nice": false}, "axis": null}},
   "layer": [
    {"mark": {"type": "rule", "color": "#8c8c8c"}, "encoding": {"x": {"field": "a"}, "x2": {"field": "b"}, "y": {"field": "y"}}},
    {"transform": [{"fold": ["a", "b"], "as": ["k", "e"]}], "mark": {"type": "rule", "color": "#8c8c8c", "y2Offset": 4}, "encoding": {"x": {"field": "e"}, "y": {"field": "y"}, "y2": {"field": "y"}}},
    {"transform": [{"filter": "datum.lab == 'ns'"}], "mark": {"type": "text", "dy": -3, "baseline": "alphabetic", "fontSize": 13, "color": "#222"}, "encoding": {"x": {"field": "m"}, "y": {"field": "y"}, "text": {"field": "lab"}}},
    {"transform": [{"filter": "datum.lab != 'ns'"}], "mark": {"type": "text", "dy": 1, "baseline": "alphabetic", "fontSize": 13, "color": "#222"}, "encoding": {"x": {"field": "m"}, "y": {"field": "y"}, "text": {"field": "lab"}}}
   ]}
 ]},
{"title": {"text": "I"}, "width": 200, "height": 189,
 "resolve": {"scale": {"x": "independent"}, "axis": {"x": "independent"}},
 "encoding": {"y": {"type": "quantitative", "title": "Fungal Shannon", "scale": {"domain": [3, 4.6], "zero": false, "nice": false}, "axis": {"values": [3, 3.2, 3.4, 3.6, 3.8, 4, 4.2, 4.4, 4.6], "format": ".1f", "labelExpr": "indexof([3,3.4,3.8,4.2,4.6], datum.value) < 0 ? '' : datum.label", "tickSize": {"condition": {"test": "indexof([3,3.4,3.8,4.2,4.6], datum.value) < 0", "value": 2}, "value": 4}}}},
 "layer": [
  {"encoding": {"x": {"field": "g", "type": "nominal", "title": "Treatment", "scale": {"type": "band", "domain": ["T3M", "T5M", "T6M"], "paddingInner": 0.685, "paddingOuter": 0.3425}, "axis": {"labelAngle": 0}}},
   "layer": [
    {"data": {"name": "stats"}, "transform": [{"filter": "datum.p == 'I'"}], "mark": {"type": "rule", "color": "#8a8a8a"}, "encoding": {"y": {"field": "lo"}, "y2": {"field": "hi"}}},
    {"data": {"name": "stats"}, "transform": [{"filter": "datum.p == 'I'"}, {"fold": ["lo", "hi"], "as": ["k", "w"]}], "mark": {"type": "tick", "orient": "horizontal", "size": 7, "thickness": 1, "color": "#8a8a8a", "opacity": 1}, "encoding": {"y": {"field": "w"}}},
    {"data": {"name": "stats"}, "transform": [{"filter": "datum.p == 'I'"}, {"fold": ["lo", "hi"], "as": ["k", "w"]}], "mark": {"type": "area", "orient": "vertical", "strokeWidth": 1, "opacity": 1}, "encoding": {"xOffset": {"field": "k", "type": "nominal", "scale": {"type": "point", "domain": ["lo", "mid", "hi"], "padding": 0}}, "y": {"field": "q1"}, "y2": {"field": "q3"}, "fill": {"field": "g", "type": "nominal", "scale": {"domain": ["T3M", "T5M", "T6M"], "range": ["#4471BD", "#8ED5DB", "#F06868"]}, "legend": {"title": null}}, "stroke": {"field": "g", "type": "nominal", "scale": {"domain": ["T3M", "T5M", "T6M"], "range": ["#2B4F8C", "#5F9EA6", "#A84848"]}, "legend": {"title": null}}}},
    {"data": {"name": "stats"}, "transform": [{"filter": "datum.p == 'I'"}, {"fold": ["lo", "hi"], "as": ["k", "w"]}], "mark": {"type": "line", "strokeWidth": 1}, "encoding": {"xOffset": {"field": "k", "type": "nominal", "scale": {"type": "point", "domain": ["lo", "mid", "hi"], "padding": 0}}, "y": {"field": "med"}, "stroke": {"field": "g", "type": "nominal", "scale": {"domain": ["T3M", "T5M", "T6M"], "range": ["#2B4F8C", "#5F9EA6", "#A84848"]}, "legend": {"title": null}}}}
   ]},
  {"data": {"name": "brk"}, "transform": [{"filter": "datum.p == 'I'"}],
   "encoding": {"x": {"type": "quantitative", "scale": {"domain": [0.5, 3.5], "zero": false, "nice": false}, "axis": null}},
   "layer": [
    {"mark": {"type": "rule", "color": "#8c8c8c"}, "encoding": {"x": {"field": "a"}, "x2": {"field": "b"}, "y": {"field": "y"}}},
    {"transform": [{"fold": ["a", "b"], "as": ["k", "e"]}], "mark": {"type": "rule", "color": "#8c8c8c", "y2Offset": 4}, "encoding": {"x": {"field": "e"}, "y": {"field": "y"}, "y2": {"field": "y"}}},
    {"transform": [{"filter": "datum.lab == 'ns'"}], "mark": {"type": "text", "dy": -3, "baseline": "alphabetic", "fontSize": 13, "color": "#222"}, "encoding": {"x": {"field": "m"}, "y": {"field": "y"}, "text": {"field": "lab"}}},
    {"transform": [{"filter": "datum.lab != 'ns'"}], "mark": {"type": "text", "dy": 1, "baseline": "alphabetic", "fontSize": 13, "color": "#222"}, "encoding": {"x": {"field": "m"}, "y": {"field": "y"}, "text": {"field": "lab"}}}
   ]}
 ]},
{"title": {"text": "J"}, "width": 200, "height": 189,
 "resolve": {"scale": {"x": "independent"}, "axis": {"x": "independent"}},
 "encoding": {"y": {"type": "quantitative", "title": "Fungal Ace", "scale": {"domain": [500, 860], "zero": false, "nice": false}, "axis": {"titleFontSize": 11.5, "values": [500, 545, 590, 635, 680, 725, 770, 815, 860], "format": "d", "labelExpr": "indexof([500,590,680,770,860], datum.value) < 0 ? '' : datum.label", "tickSize": {"condition": {"test": "indexof([500,590,680,770,860], datum.value) < 0", "value": 2}, "value": 4}}}},
 "layer": [
  {"encoding": {"x": {"field": "g", "type": "nominal", "title": "Treatment", "scale": {"type": "band", "domain": ["T3M", "T5M", "T6M"], "paddingInner": 0.685, "paddingOuter": 0.3425}, "axis": {"labelAngle": 0}}},
   "layer": [
    {"data": {"name": "stats"}, "transform": [{"filter": "datum.p == 'J'"}], "mark": {"type": "rule", "color": "#8a8a8a"}, "encoding": {"y": {"field": "lo"}, "y2": {"field": "hi"}}},
    {"data": {"name": "stats"}, "transform": [{"filter": "datum.p == 'J'"}, {"fold": ["lo", "hi"], "as": ["k", "w"]}], "mark": {"type": "tick", "orient": "horizontal", "size": 7, "thickness": 1, "color": "#8a8a8a", "opacity": 1}, "encoding": {"y": {"field": "w"}}},
    {"data": {"name": "diam"}, "transform": [{"filter": "datum.p == 'J'"}], "mark": {"type": "area", "orient": "vertical", "strokeWidth": 1, "opacity": 1}, "encoding": {"xOffset": {"field": "v", "type": "nominal", "scale": {"type": "point", "domain": ["lo", "mid", "hi"], "padding": 0}}, "y": {"field": "ya"}, "y2": {"field": "yb"}, "fill": {"field": "g", "type": "nominal", "scale": {"domain": ["T3M", "T5M", "T6M"], "range": ["#4471BD", "#8ED5DB", "#F06868"]}, "legend": {"title": null}}, "stroke": {"field": "g", "type": "nominal", "scale": {"domain": ["T3M", "T5M", "T6M"], "range": ["#2B4F8C", "#5F9EA6", "#A84848"]}, "legend": {"title": null}}}},
    {"data": {"name": "stats"}, "transform": [{"filter": "datum.p == 'J'"}, {"fold": ["lo", "hi"], "as": ["k", "w"]}], "mark": {"type": "line", "strokeWidth": 1}, "encoding": {"xOffset": {"field": "k", "type": "nominal", "scale": {"type": "point", "domain": ["lo", "mid", "hi"], "padding": 0}}, "y": {"field": "med"}, "stroke": {"field": "g", "type": "nominal", "scale": {"domain": ["T3M", "T5M", "T6M"], "range": ["#2B4F8C", "#5F9EA6", "#A84848"]}, "legend": {"title": null}}}}
   ]},
  {"data": {"name": "brk"}, "transform": [{"filter": "datum.p == 'J'"}],
   "encoding": {"x": {"type": "quantitative", "scale": {"domain": [0.5, 3.5], "zero": false, "nice": false}, "axis": null}},
   "layer": [
    {"mark": {"type": "rule", "color": "#8c8c8c"}, "encoding": {"x": {"field": "a"}, "x2": {"field": "b"}, "y": {"field": "y"}}},
    {"transform": [{"fold": ["a", "b"], "as": ["k", "e"]}], "mark": {"type": "rule", "color": "#8c8c8c", "y2Offset": 4}, "encoding": {"x": {"field": "e"}, "y": {"field": "y"}, "y2": {"field": "y"}}},
    {"transform": [{"filter": "datum.lab == 'ns'"}], "mark": {"type": "text", "dy": -3, "baseline": "alphabetic", "fontSize": 13, "color": "#222"}, "encoding": {"x": {"field": "m"}, "y": {"field": "y"}, "text": {"field": "lab"}}},
    {"transform": [{"filter": "datum.lab != 'ns'"}], "mark": {"type": "text", "dy": 1, "baseline": "alphabetic", "fontSize": 13, "color": "#222"}, "encoding": {"x": {"field": "m"}, "y": {"field": "y"}, "text": {"field": "lab"}}}
   ]}
 ]},
{"title": {"text": "K"}, "width": 200, "height": 189,
 "resolve": {"scale": {"x": "independent"}, "axis": {"x": "independent"}},
 "encoding": {"y": {"type": "quantitative", "title": "Fungal Chao", "scale": {"domain": [100, 300], "zero": false, "nice": false}, "axis": {"values": [100, 125, 150, 175, 200, 225, 250, 275, 300], "format": "d", "labelExpr": "indexof([100,150,200,250,300], datum.value) < 0 ? '' : datum.label", "tickSize": {"condition": {"test": "indexof([100,150,200,250,300], datum.value) < 0", "value": 2}, "value": 4}}}},
 "layer": [
  {"encoding": {"x": {"field": "g", "type": "nominal", "title": "Treatment", "scale": {"type": "band", "domain": ["T3M", "T5M", "T6M"], "paddingInner": 0.685, "paddingOuter": 0.3425}, "axis": {"labelAngle": 0}}},
   "layer": [
    {"data": {"name": "stats"}, "transform": [{"filter": "datum.p == 'K'"}], "mark": {"type": "rule", "color": "#8a8a8a"}, "encoding": {"y": {"field": "lo"}, "y2": {"field": "hi"}}},
    {"data": {"name": "stats"}, "transform": [{"filter": "datum.p == 'K'"}, {"fold": ["lo", "hi"], "as": ["k", "w"]}], "mark": {"type": "tick", "orient": "horizontal", "size": 7, "thickness": 1, "color": "#8a8a8a", "opacity": 1}, "encoding": {"y": {"field": "w"}}},
    {"data": {"name": "stats"}, "transform": [{"filter": "datum.p == 'K'"}, {"fold": ["lo", "hi"], "as": ["k", "w"]}], "mark": {"type": "area", "orient": "vertical", "strokeWidth": 1, "opacity": 1}, "encoding": {"xOffset": {"field": "k", "type": "nominal", "scale": {"type": "point", "domain": ["lo", "mid", "hi"], "padding": 0}}, "y": {"field": "q1"}, "y2": {"field": "q3"}, "fill": {"field": "g", "type": "nominal", "scale": {"domain": ["T3M", "T5M", "T6M"], "range": ["#4471BD", "#8ED5DB", "#F06868"]}, "legend": {"title": null}}, "stroke": {"field": "g", "type": "nominal", "scale": {"domain": ["T3M", "T5M", "T6M"], "range": ["#2B4F8C", "#5F9EA6", "#A84848"]}, "legend": {"title": null}}}},
    {"data": {"name": "stats"}, "transform": [{"filter": "datum.p == 'K'"}, {"fold": ["lo", "hi"], "as": ["k", "w"]}], "mark": {"type": "line", "strokeWidth": 1}, "encoding": {"xOffset": {"field": "k", "type": "nominal", "scale": {"type": "point", "domain": ["lo", "mid", "hi"], "padding": 0}}, "y": {"field": "med"}, "stroke": {"field": "g", "type": "nominal", "scale": {"domain": ["T3M", "T5M", "T6M"], "range": ["#2B4F8C", "#5F9EA6", "#A84848"]}, "legend": {"title": null}}}}
   ]},
  {"data": {"name": "brk"}, "transform": [{"filter": "datum.p == 'K'"}],
   "encoding": {"x": {"type": "quantitative", "scale": {"domain": [0.5, 3.5], "zero": false, "nice": false}, "axis": null}},
   "layer": [
    {"mark": {"type": "rule", "color": "#8c8c8c"}, "encoding": {"x": {"field": "a"}, "x2": {"field": "b"}, "y": {"field": "y"}}},
    {"transform": [{"fold": ["a", "b"], "as": ["k", "e"]}], "mark": {"type": "rule", "color": "#8c8c8c", "y2Offset": 4}, "encoding": {"x": {"field": "e"}, "y": {"field": "y"}, "y2": {"field": "y"}}},
    {"transform": [{"filter": "datum.lab == 'ns'"}], "mark": {"type": "text", "dy": -3, "baseline": "alphabetic", "fontSize": 13, "color": "#222"}, "encoding": {"x": {"field": "m"}, "y": {"field": "y"}, "text": {"field": "lab"}}},
    {"transform": [{"filter": "datum.lab != 'ns'"}], "mark": {"type": "text", "dy": 1, "baseline": "alphabetic", "fontSize": 13, "color": "#222"}, "encoding": {"x": {"field": "m"}, "y": {"field": "y"}, "text": {"field": "lab"}}}
   ]}
 ]},
{"title": {"text": "L"}, "width": 200, "height": 189,
 "resolve": {"scale": {"x": "independent"}, "axis": {"x": "independent"}},
 "encoding": {"y": {"type": "quantitative", "title": "Fungal Ace/Chao", "scale": {"domain": [0.8, 1.2], "zero": false, "nice": false}, "axis": {"values": [0.8, 0.85, 0.9, 0.95, 1, 1.05, 1.1, 1.15, 1.2], "format": ".1f", "labelExpr": "indexof([0.8,0.9,1,1.1,1.2], datum.value) < 0 ? '' : datum.label", "tickSize": {"condition": {"test": "indexof([0.8,0.9,1,1.1,1.2], datum.value) < 0", "value": 2}, "value": 4}}}},
 "layer": [
  {"encoding": {"x": {"field": "g", "type": "nominal", "title": "Treatment", "scale": {"type": "band", "domain": ["T3M", "T5M", "T6M"], "paddingInner": 0.685, "paddingOuter": 0.3425}, "axis": {"labelAngle": 0}}},
   "layer": [
    {"data": {"name": "stats"}, "transform": [{"filter": "datum.p == 'L'"}], "mark": {"type": "rule", "color": "#8a8a8a"}, "encoding": {"y": {"field": "lo"}, "y2": {"field": "hi"}}},
    {"data": {"name": "stats"}, "transform": [{"filter": "datum.p == 'L'"}, {"fold": ["lo", "hi"], "as": ["k", "w"]}], "mark": {"type": "tick", "orient": "horizontal", "size": 7, "thickness": 1, "color": "#8a8a8a", "opacity": 1}, "encoding": {"y": {"field": "w"}}},
    {"data": {"name": "stats"}, "transform": [{"filter": "datum.p == 'L'"}, {"fold": ["lo", "hi"], "as": ["k", "w"]}], "mark": {"type": "area", "orient": "vertical", "strokeWidth": 1, "opacity": 1}, "encoding": {"xOffset": {"field": "k", "type": "nominal", "scale": {"type": "point", "domain": ["lo", "mid", "hi"], "padding": 0}}, "y": {"field": "q1"}, "y2": {"field": "q3"}, "fill": {"field": "g", "type": "nominal", "scale": {"domain": ["T3M", "T5M", "T6M"], "range": ["#4471BD", "#8ED5DB", "#F06868"]}, "legend": {"title": null}}, "stroke": {"field": "g", "type": "nominal", "scale": {"domain": ["T3M", "T5M", "T6M"], "range": ["#2B4F8C", "#5F9EA6", "#A84848"]}, "legend": {"title": null}}}},
    {"data": {"name": "stats"}, "transform": [{"filter": "datum.p == 'L'"}, {"fold": ["lo", "hi"], "as": ["k", "w"]}], "mark": {"type": "line", "strokeWidth": 1}, "encoding": {"xOffset": {"field": "k", "type": "nominal", "scale": {"type": "point", "domain": ["lo", "mid", "hi"], "padding": 0}}, "y": {"field": "med"}, "stroke": {"field": "g", "type": "nominal", "scale": {"domain": ["T3M", "T5M", "T6M"], "range": ["#2B4F8C", "#5F9EA6", "#A84848"]}, "legend": {"title": null}}}}
   ]},
  {"data": {"name": "brk"}, "transform": [{"filter": "datum.p == 'L'"}],
   "encoding": {"x": {"type": "quantitative", "scale": {"domain": [0.5, 3.5], "zero": false, "nice": false}, "axis": null}},
   "layer": [
    {"mark": {"type": "rule", "color": "#8c8c8c"}, "encoding": {"x": {"field": "a"}, "x2": {"field": "b"}, "y": {"field": "y"}}},
    {"transform": [{"fold": ["a", "b"], "as": ["k", "e"]}], "mark": {"type": "rule", "color": "#8c8c8c", "y2Offset": 4}, "encoding": {"x": {"field": "e"}, "y": {"field": "y"}, "y2": {"field": "y"}}},
    {"transform": [{"filter": "datum.lab == 'ns'"}], "mark": {"type": "text", "dy": -3, "baseline": "alphabetic", "fontSize": 13, "color": "#222"}, "encoding": {"x": {"field": "m"}, "y": {"field": "y"}, "text": {"field": "lab"}}},
    {"transform": [{"filter": "datum.lab != 'ns'"}], "mark": {"type": "text", "dy": 1, "baseline": "alphabetic", "fontSize": 13, "color": "#222"}, "encoding": {"x": {"field": "m"}, "y": {"field": "y"}, "text": {"field": "lab"}}}
   ]}
 ]}
],
"config": {
 "font": "Liberation Sans",
 "view": {"stroke": "#8c8c8c", "strokeWidth": 1},
 "axis": {"domainColor": "#8c8c8c", "tickColor": "#8c8c8c", "labelColor": "#111", "titleColor": "#111", "labelFontSize": 12, "titleFontSize": 13, "titleFontWeight": "normal", "grid": false, "labelOverlap": false, "labelFlush": false},
 "axisX": {"tickSize": 4, "labelPadding": 6, "labelFontSize": 13, "titlePadding": 3},
 "axisY": {"labelPadding": 2, "titlePadding": 1},
 "legend": {"orient": "none", "legendX": 9, "legendY": 3.5, "direction": "horizontal", "symbolType": "M-2.07,-1H2.07V1H-2.07Z", "symbolSize": 196, "symbolOffset": 7, "labelOffset": 9, "columnPadding": 3, "labelFontSize": 13, "labelColor": "#111", "padding": 0, "symbolStrokeWidth": 1, "symbolOpacity": 1},
 "title": {"anchor": "start", "frame": "group", "fontSize": 15, "fontWeight": "bold", "dx": -36, "offset": 7, "color": "#000"}
}
}
